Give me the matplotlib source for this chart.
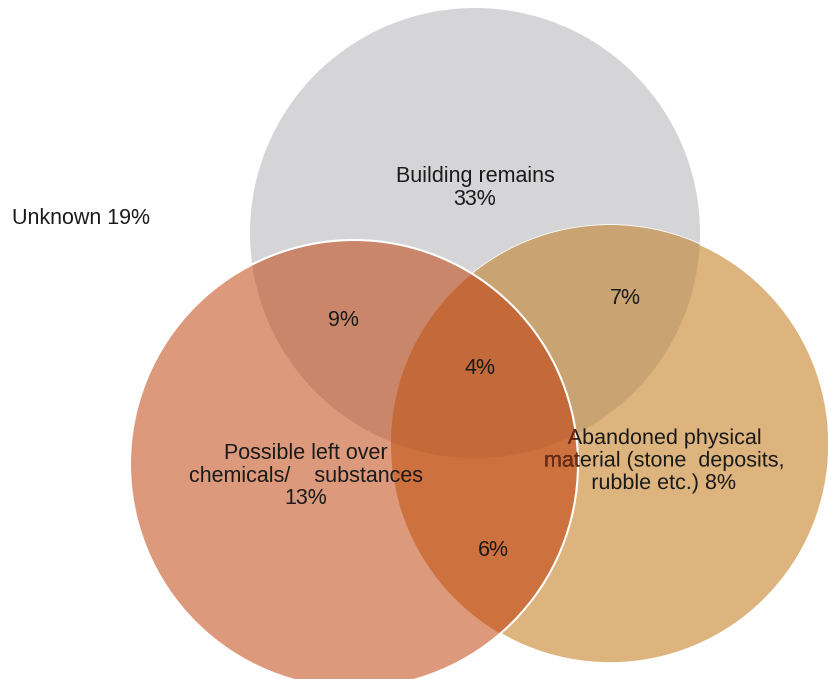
import numpy as np
import matplotlib.pyplot as plt
from matplotlib.patches import Circle, Polygon, PathPatch
from matplotlib.textpath import TextPath
from matplotlib.font_manager import FontProperties
from matplotlib.transforms import Affine2D

plt.rcParams['font.family'] = ['Liberation Sans', 'DejaVu Sans']

# Venn sets and region shares (%)
set_names = ['Building remains', 'Possible left over\nchemicals/    substances',
             'Abandoned physical\nmaterial (stone  deposits,\nrubble etc.)']
set_only = [33, 13, 8]
pair_bl = 9   # building & chemicals
pair_ba = 7   # building & abandoned
pair_la = 6   # chemicals & abandoned
triple = 4
unknown = 19

# circle layout in pixel coords (x, y, r)
circ_g = (475, 233, 225)
circ_l = (354, 464, 224)
circ_r = (610, 444, 219)

col_g = '#d5d5d7'
col_l = '#dd997c'
col_r = '#deb47e'
col_gl = '#c9866b'
col_gr = '#c9a371'
col_lr = '#cd713e'
col_glr = '#c46a3a'
txt_col = '#1a1a1a'

fig = plt.figure(figsize=(8.29, 6.79), dpi=100)
ax = fig.add_axes([0, 0, 1, 1])
ax.set_xlim(0, 829)
ax.set_ylim(679, 0)
ax.set_aspect('equal')
ax.axis('off')


def circ(c, **kw):
    return Circle((c[0], c[1]), c[2], **kw)


def lens(c1, c2, n=720):
    # polygon of the intersection of two circles
    pts = []
    for a, b in [(c1, c2), (c2, c1)]:
        t = np.linspace(0, 2 * np.pi, n)
        x = a[0] + a[2] * np.cos(t)
        y = a[1] + a[2] * np.sin(t)
        inside = (x - b[0]) ** 2 + (y - b[1]) ** 2 <= b[2] ** 2
        pts.append(np.column_stack([x[inside], y[inside]]))
    pts = np.vstack(pts)
    cx, cy = pts.mean(axis=0)
    order = np.argsort(np.arctan2(pts[:, 1] - cy, pts[:, 0] - cx))
    return pts[order]


# base circles
ax.add_patch(circ(circ_g, facecolor=col_g, edgecolor='none', zorder=1))
ax.add_patch(circ(circ_r, facecolor=col_r, edgecolor='white', lw=1.2, zorder=2))
clip_l = circ(circ_l, facecolor=col_l, edgecolor='none', zorder=3)
ax.add_patch(clip_l)

# pairwise overlaps
clip_r = circ(circ_r, facecolor='none', edgecolor='none')
ax.add_patch(clip_r)
p = circ(circ_g, facecolor=col_gl, edgecolor='none', zorder=4)
ax.add_patch(p)
p.set_clip_path(clip_l)
p = circ(circ_g, facecolor=col_gr, edgecolor='none', zorder=4)
ax.add_patch(p)
p.set_clip_path(clip_r)
p = circ(circ_l, facecolor=col_lr, edgecolor='none', zorder=5)
ax.add_patch(p)
p.set_clip_path(clip_r)

# triple overlap
lr_poly = Polygon(lens(circ_l, circ_r), closed=True, facecolor='none', edgecolor='none')
ax.add_patch(lr_poly)
p = circ(circ_g, facecolor=col_glr, edgecolor='none', zorder=6)
ax.add_patch(p)
p.set_clip_path(lr_poly)

# white outline of the chemicals circle on top
ax.add_patch(circ(circ_l, facecolor='none', edgecolor='white', lw=1.5, zorder=7))

fs = 15.5
tk = dict(ha='center', va='center', fontsize=fs, color=txt_col, linespacing=1.1, zorder=10)

ax.text(475, 188, f'{set_names[0]}\n{set_only[0]}%', **tk)
ax.text(306, 476, f'{set_names[1]}\n{set_only[1]}%', **tk)
ax.text(343, 321, f'{pair_bl}%', **tk)
ax.text(625, 299, f'{pair_ba}%', **tk)
ax.text(493, 551, f'{pair_la}%', **tk)
ax.text(480, 369, f'{triple}%', **tk)
ax.text(12, 219, f'Unknown {unknown}%', ha='left', va='center', fontsize=fs,
        color=txt_col, zorder=10)

# abandoned label as outlines, so the part lying under the
# chemicals circle can be tinted (text sits behind that circle)
fp = FontProperties(family='Liberation Sans')
size_px = fs * 100 / 72
ab_lines = f'{set_names[2]} {set_only[2]}%'.split('\n')
for i, line in enumerate(ab_lines):
    tp = TextPath((0, 0), line, size=size_px, prop=fp)
    ext = tp.get_extents()
    x0 = 664 - (ext.x0 + ext.x1) / 2
    yb = 444 + i * 22.5
    tr = Affine2D().scale(1, -1).translate(x0, yb)
    path = tr.transform_path(tp)
    ax.add_patch(PathPatch(path, facecolor=txt_col, edgecolor='none', zorder=10))
    dark = PathPatch(path, facecolor='#6e2a12', edgecolor='none', zorder=11)
    ax.add_patch(dark)
    dark.set_clip_path(clip_l)

fig.savefig('out.png', dpi=100)
